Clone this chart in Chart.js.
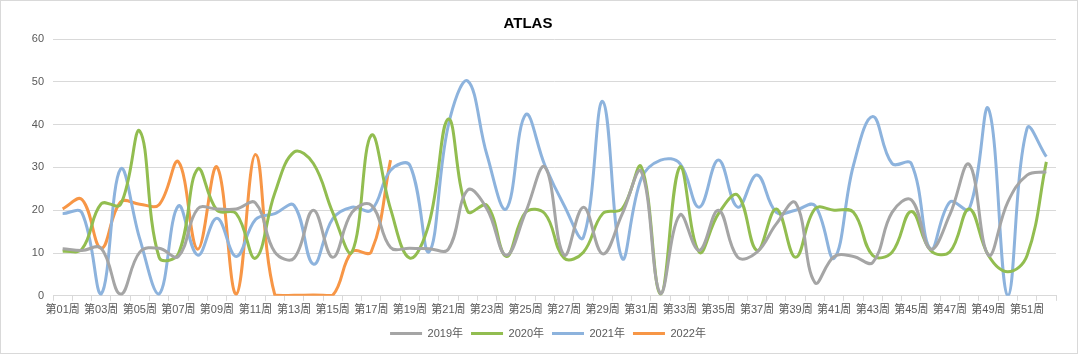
<!DOCTYPE html>
<html>
<head>
<meta charset="utf-8">
<script src="https://cdn.jsdelivr.net/npm/chart.js@4"></script>
<style>
html,body{margin:0;padding:0;background:#fff;}
#wrap{width:1080px;height:355px;position:relative;}
</style>
</head>
<body>
<div id="wrap"><canvas id="c" width="1080" height="355"></canvas></div>
<script>
const weeks = ['第01周','第02周','第03周','第04周','第05周','第06周','第07周','第08周','第09周','第10周',
'第11周','第12周','第13周','第14周','第15周','第16周','第17周','第18周','第19周','第20周',
'第21周','第22周','第23周','第24周','第25周','第26周','第27周','第28周','第29周','第30周',
'第31周','第32周','第33周','第34周','第35周','第36周','第37周','第38周','第39周','第40周',
'第41周','第42周','第43周','第44周','第45周','第46周','第47周','第48周','第49周','第50周',
'第51周','第52周'];
const seriesNames = ['2019年','2020年','2021年','2022年'];
const y2019 = [11,10.6,11.1,0.4,10.2,11.1,9.2,20.3,20.3,20.3,21.7,10.2,8.8,20,9,19.5,21.2,11.3,11.1,11,10.9,24.7,20.3,9.5,19.5,30.1,9.5,20.7,9.8,19,29,0.5,18.9,10.6,20,9,10.2,16.8,21.7,3.1,9.2,9.2,7.8,19.5,22.4,10.9,19,30.7,9.5,21.9,28.2,29];
const y2020 = [10.4,10.9,21.5,21.3,38.5,9,9.8,29.6,20,19.2,8.8,24,33.6,30.9,19.5,10.2,37.5,20.3,8.8,17,41.3,19.7,21.1,9.2,19.5,19.2,8.8,10.2,19.2,20.3,30.1,0.4,30.1,10.2,19.2,23.5,10.6,20.3,9,20.3,20,19.5,9.4,10.2,19.7,10.6,10.3,20.3,9.4,5.6,9.4,31.3];
const y2021 = [19.2,19.4,0.4,29.6,13.3,0.4,21,9.5,18.1,9.2,17.8,19.2,21.1,7.4,18,20.7,20,29.3,30.5,10.3,39.9,50.2,32.9,20.3,42.3,30.5,21.1,13.7,45.4,8.8,27.4,31.7,30.9,20.7,31.7,20.7,28.2,19.5,20,21.1,8.8,30.5,41.9,30.9,30.9,10.9,21.9,20.3,43.7,0,39.1,32.5];
const y2022 = [20.3,22.5,11.1,21.9,21.4,21.3,31.3,10.9,30.1,0.4,33,0.2,0.1,0.2,0.1,10.3,10.3,31.7];
const yTicks = [0,10,20,30,40,50,60];
const colors = ['#a5a5a5','#92bd50','#8db3dd','#f79646'];

const FONT = '"Liberation Sans","Noto Sans CJK SC",sans-serif';
const frame = {
  id:'frame',
  beforeDraw(chart){
    const ctx = chart.ctx;
    ctx.save();
    ctx.fillStyle = '#fff';
    ctx.fillRect(0,0,chart.width,chart.height);
    ctx.strokeStyle = '#d9d9d9';
    ctx.lineWidth = 1;
    ctx.strokeRect(0.5,0.5,1077,353);
    ctx.restore();
  },
  afterLayout(chart){
    const lg = chart.legend;
    if (lg) { lg.left += 20; lg.right += 20; }
  }
};
const datasets = [y2019,y2020,y2021,y2022].map((d,i)=>({
  label: seriesNames[i],
  data: d,
  borderColor: colors[i],
  backgroundColor: colors[i],
  borderWidth: 3,
  pointRadius: 0,
  tension: 0.4,
  fill: false
}));
new Chart(document.getElementById('c'), {
  type: 'line',
  data: { labels: weeks, datasets },
  plugins: [frame],
  options: {
    responsive: false,
    animation: false,
    layout: { padding: { left: 0, right: 24, top: 0, bottom: 6 } },
    plugins: {
      title: { display: true, text: 'ATLAS', color: '#000', font: { family: FONT, size: 15, weight: 'bold' }, padding: { top: 15, bottom: 6 } },
      legend: {
        position: 'bottom',
        labels: {
          color: '#595959',
          font: { family: FONT, size: 11 },
          boxWidth: 32, boxHeight: 3, padding: 8,
          generateLabels(chart){
            return chart.data.datasets.map((ds,i)=>({
              text: ds.label, fillStyle: ds.borderColor, strokeStyle: ds.borderColor,
              lineWidth: 0, hidden: false, datasetIndex: i, fontColor: '#595959'
            }));
          }
        }
      },
      tooltip: { enabled: false }
    },
    scales: {
      x: {
        offset: true,
        grid: { display: true, drawOnChartArea: false, drawTicks: true, tickLength: 5, color: '#d9d9d9', offset: true },
        border: { display: true, color: '#d9d9d9' },
        ticks: {
          autoSkip: false, maxRotation: 0, minRotation: 0, padding: 3,
          color: '#595959', font: { family: FONT, size: 11 },
          callback: (v, i) => (i % 2 === 0 ? weeks[i] : '')
        }
      },
      y: {
        min: 0, max: 60,
        afterBuildTicks(scale){ scale.ticks = yTicks.map(v=>({value:v})); },
        afterFit(scale){ scale.width = 53; },
        grid: { color: '#d9d9d9', drawTicks: false },
        border: { display: false },
        ticks: { padding: 9, color: '#595959', font: { family: FONT, size: 11 } }
      }
    }
  }
});
</script>
</body>
</html>
